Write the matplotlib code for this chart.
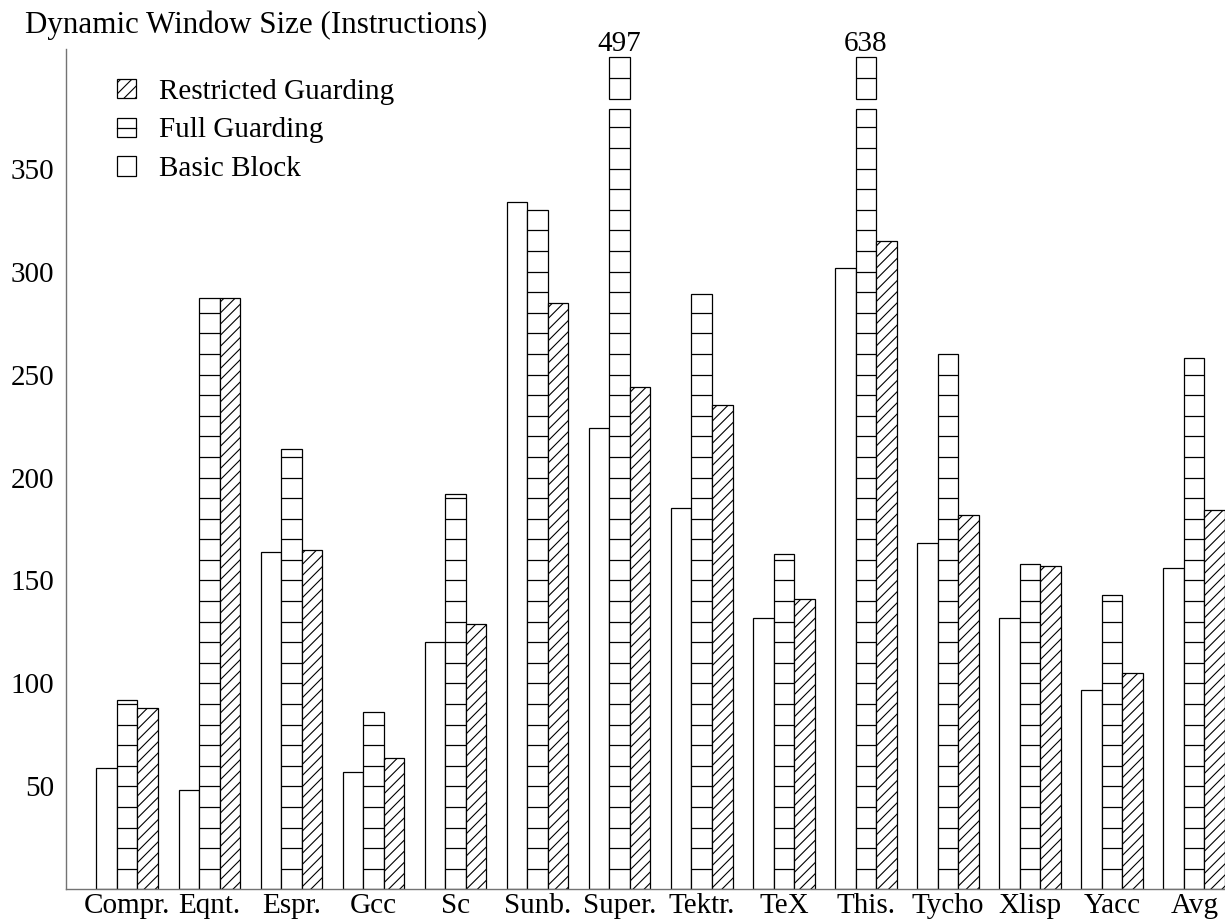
# Dynamic window size per benchmark: basic block vs. full / restricted guarding
import numpy as np
import matplotlib
matplotlib.use("Agg")
import matplotlib.pyplot as plt
from matplotlib.patches import Patch
from matplotlib.lines import Line2D
from matplotlib.legend_handler import HandlerTuple

# ================================
# DATA
# ================================

BENCHMARKS = ["Compr.", "Eqnt.", "Espr.", "Gcc", "Sc", "Sunb.", "Super.",
              "Tektr.", "TeX", "This.", "Tycho", "Xlisp", "Yacc", "Avg"]
BASIC_BLOCK = [59, 48, 164, 57, 120, 334, 224, 185, 132, 302, 168, 132, 97, 156]
FULL_GUARDING = [92, 287, 214, 86, 192, 330, 497, 289, 163, 638, 260, 158, 143, 258]
RESTRICTED_GUARDING = [88, 287, 165, 64, 129, 285, 244, 235, 141, 315, 182, 157, 105, 184]
Y_TICKS = [50, 100, 150, 200, 250, 300, 350]

# ================================
# STYLE
# ================================

Y_MAX = 408
STRIPE = 10            # full guarding bars are drawn as stacked boxes of 10
CLIP_AT = 379          # bars taller than the axis are cut here ...
STUB = (384, 404)      # ... and a short stub is drawn above the break
BAR_W = 1.0
GROUP_STEP = 4.0
LW = 0.9
FONT = "Liberation Serif"
FS = 21

plt.rcParams["font.family"] = FONT
plt.rcParams["hatch.linewidth"] = 0.8


def draw_full_guarding(ax, xs, values):
    """Striped bars; values off the scale get a break and a value label."""
    for x, val in zip(xs, values):
        left, right = x - BAR_W / 2, x + BAR_W / 2
        if val <= CLIP_AT:
            ax.bar(x, val, width=BAR_W, color="white", edgecolor="black", linewidth=LW)
            levels = list(np.arange(STRIPE, val, STRIPE))
        else:
            ax.bar(x, CLIP_AT, width=BAR_W, color="white", edgecolor="black", linewidth=LW)
            ax.bar(x, STUB[1] - STUB[0], bottom=STUB[0], width=BAR_W,
                   color="white", edgecolor="black", linewidth=LW, clip_on=False)
            levels = list(np.arange(STRIPE, CLIP_AT, STRIPE))
            levels += [STUB[0] + STRIPE]
            ax.annotate(str(val), (x, STUB[1]), xytext=(0, 0), textcoords="offset points",
                        ha="center", va="bottom", fontsize=FS, annotation_clip=False)
        ax.hlines(levels, left, right, color="black", linewidth=LW)


def main():
    fig = plt.figure(figsize=(12.25, 9.19), dpi=100)
    ax = fig.add_axes([0.0536, 0.0323, 0.9464, 0.9141])

    centers = np.arange(len(BENCHMARKS)) * GROUP_STEP
    ax.bar(centers - BAR_W, BASIC_BLOCK, width=BAR_W, color="white",
           edgecolor="black", linewidth=LW)
    draw_full_guarding(ax, centers, FULL_GUARDING)
    ax.bar(centers + BAR_W, RESTRICTED_GUARDING, width=BAR_W, color="white",
           edgecolor="black", linewidth=LW, hatch="///")

    ax.set_xlim(-3.0, centers[-1] + 1.5)
    ax.set_ylim(0, Y_MAX)
    ax.set_xticks(centers)
    ax.set_xticklabels(BENCHMARKS, fontsize=FS)
    ax.set_yticks(Y_TICKS)
    ax.set_yticklabels([str(t) for t in Y_TICKS], fontsize=FS)
    ax.tick_params(axis="both", length=0)
    ax.tick_params(axis="y", pad=8)
    ax.tick_params(axis="x", pad=2.5)

    for side in ["top", "right"]:
        ax.spines[side].set_visible(False)
    for side in ["left", "bottom"]:
        ax.spines[side].set_color("0.45")
        ax.spines[side].set_linewidth(1.0)

    fig.text(0.0204, 0.964, "Dynamic Window Size (Instructions)",
             fontsize=22.3, ha="left", va="baseline")

    # legend, listed top to bottom as in the original
    restricted = Patch(facecolor="white", edgecolor="black", hatch="///", linewidth=LW)
    full = (Patch(facecolor="white", edgecolor="black", linewidth=LW),
            Line2D([], [], color="black", linewidth=LW))
    basic = Patch(facecolor="white", edgecolor="black", linewidth=LW)
    ax.legend([restricted, full, basic],
              ["Restricted Guarding", "Full Guarding", "Basic Block"],
              handler_map={tuple: HandlerTuple(ndivide=1, pad=0)},
              loc="upper left", bbox_to_anchor=(0.0443, 0.965),
              frameon=False, fontsize=FS, borderpad=0, borderaxespad=0,
              handlelength=0.65, handleheight=0.65, handletextpad=0.8,
              labelspacing=0.44)

    fig.savefig("out.png", dpi=100)
    plt.close(fig)


if __name__ == "__main__":
    main()
